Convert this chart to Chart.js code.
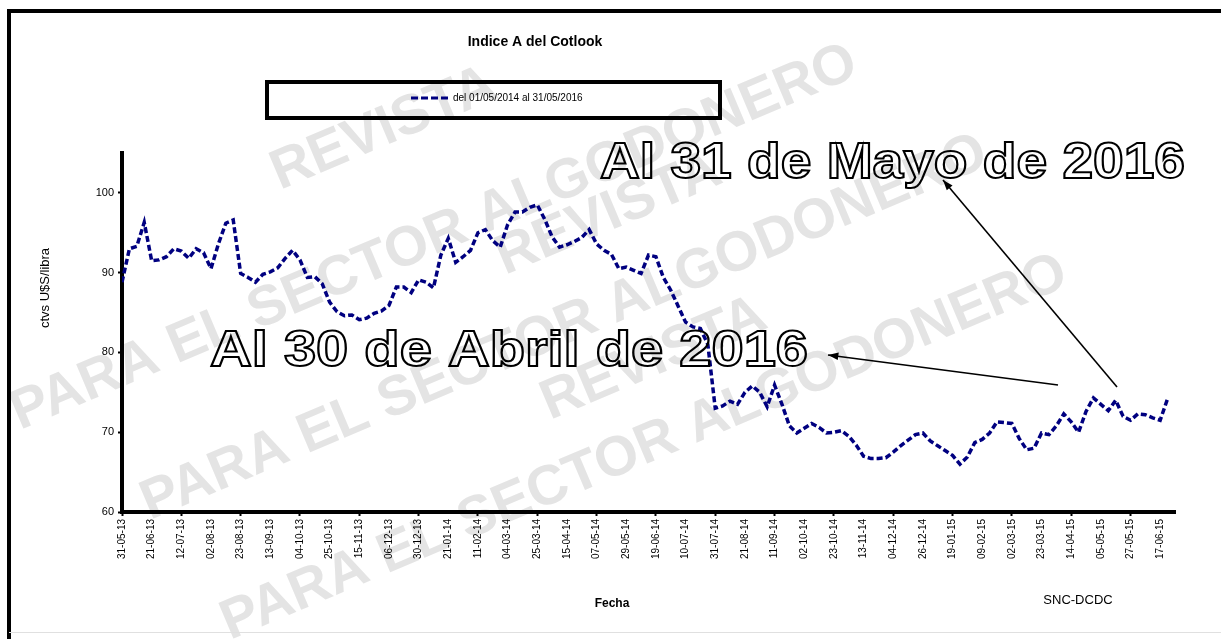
<!DOCTYPE html>
<html>
<head>
<meta charset="utf-8">
<script src="https://cdn.jsdelivr.net/npm/chart.js@4.4.1/dist/chart.umd.min.js"></script>
<style>
  html, body { margin: 0; padding: 0; background: #fff; }
  canvas { display: block; }
</style>
</head>
<body>
<canvas id="myChart" width="1221" height="639"></canvas>
<script>
const chartTitle = 'Indice A del Cotlook'
const legendLabel = 'del 01/05/2014 al 31/05/2016'
const yTitle = 'ctvs U$S/libra'
const xTitle = 'Fecha'
const sourceNote = 'SNC-DCDC'

// one label every 4 points
const xTickLabels = ['31-05-13','21-06-13','12-07-13','02-08-13','23-08-13','13-09-13','04-10-13','25-10-13','15-11-13','06-12-13',
  '30-12-13','21-01-14','11-02-14','04-03-14','25-03-14','15-04-14','07-05-14','29-05-14','19-06-14','10-07-14',
  '31-07-14','21-08-14','11-09-14','02-10-14','23-10-14','13-11-14','04-12-14','26-12-14','19-01-15','09-02-15',
  '02-03-15','23-03-15','14-04-15','05-05-15','27-05-15','17-06-15']
const pointsPerLabel = 4

const priceValues = [
  88.8, 93.0, 93.3, 96.3, 91.5, 91.6, 92.0, 93.0, 92.7, 91.8,
  93.0, 92.5, 90.5, 93.6, 96.2, 96.6, 89.9, 89.4, 88.8, 89.8,
  90.1, 90.6, 91.8, 92.8, 91.6, 89.4, 89.5, 88.6, 86.3, 85.1,
  84.6, 84.7, 84.1, 84.3, 84.9, 85.2, 85.9, 88.2, 88.2, 87.5,
  89.1, 88.8, 88.1, 92.2, 94.3, 91.3, 92.0, 92.8, 95.0, 95.4,
  94.0, 93.2, 96.0, 97.6, 97.6, 98.2, 98.5, 96.7, 94.5, 93.2,
  93.5, 93.9, 94.4, 95.4, 93.6, 92.8, 92.3, 90.5, 90.7, 90.3,
  89.9, 92.2, 92.0, 89.4, 87.8, 85.8, 83.8, 83.2, 83.0, 81.0,
  73.0, 73.3, 73.9, 73.5, 75.0, 75.8, 75.0, 73.2, 75.9, 73.5,
  70.8, 69.9, 70.5, 71.1, 70.6, 69.9, 70.0, 70.2, 69.5, 68.4,
  67.0, 66.7, 66.7, 66.8, 67.5, 68.3, 69.0, 69.7, 69.9, 68.9,
  68.3, 67.7, 67.1, 66.0, 66.9, 68.7, 69.1, 69.9, 71.3, 71.2,
  71.1, 69.2, 67.8, 68.0, 69.9, 69.7, 70.8, 72.3, 71.3, 70.0,
  72.6, 74.3, 73.5, 72.7, 74.0, 72.0, 71.5, 72.3, 72.2, 71.8,
  71.5, 74.2
]

const annotations = ['Al 31 de Mayo de 2016', 'Al 30 de Abril de 2016']
const watermarkTop = 'REVISTA'
const watermarkBottom = 'PARA EL SECTOR ALGODONERO'

const FONT = 'Arial, "Liberation Sans", sans-serif'
const LINE_COLOR = '#000080'

let points = priceValues.map((v, i) => ({ x: i, y: v }))

function arrow(ctx, x1, y1, x2, y2) {
    ctx.beginPath()
    ctx.moveTo(x1, y1)
    ctx.lineTo(x2, y2)
    ctx.stroke()
    let a = Math.atan2(y2 - y1, x2 - x1)
    ctx.beginPath()
    ctx.moveTo(x2, y2)
    ctx.lineTo(x2 - 11 * Math.cos(a - 0.35), y2 - 11 * Math.sin(a - 0.35))
    ctx.lineTo(x2 - 11 * Math.cos(a + 0.35), y2 - 11 * Math.sin(a + 0.35))
    ctx.closePath()
    ctx.fill()
}

function outlineText(ctx, text, x, baseline, width, size) {
    ctx.save()
    ctx.font = 'bold ' + size + 'px ' + FONT
    let w = ctx.measureText(text).width
    ctx.translate(x, baseline)
    ctx.scale(width / w, 1)
    ctx.textAlign = 'left'
    ctx.textBaseline = 'alphabetic'
    ctx.lineWidth = 2
    ctx.strokeStyle = '#000'
    ctx.strokeText(text, 0, 0)
    ctx.restore()
}

const decor = {
    id: 'decor',
    beforeDraw(chart) {
        const ctx = chart.ctx
        ctx.save()
        ctx.fillStyle = '#fff'
        ctx.fillRect(0, 0, chart.width, chart.height)
        // watermark stamps
        ctx.fillStyle = '#e4e4e4'
        ctx.font = 'bold 56px ' + FONT
        ctx.textBaseline = 'alphabetic'
        let stamps = [[280, 190, 20, 430], [505, 275, 150, 520], [550, 420, 230, 640]]
        stamps.forEach(s => {
            ctx.save()
            ctx.translate(s[0], s[1])
            ctx.rotate(-0.4)
            ctx.fillText(watermarkTop, 0, 0)
            ctx.restore()
            ctx.save()
            ctx.translate(s[2], s[3])
            ctx.rotate(-0.4)
            ctx.fillText(watermarkBottom, 0, 0)
            ctx.restore()
        })
        ctx.restore()
    },
    afterDraw(chart) {
        const ctx = chart.ctx
        ctx.save()
        // frame
        ctx.strokeStyle = '#000'
        ctx.lineWidth = 4
        ctx.beginPath()
        ctx.moveTo(9, 639)
        ctx.lineTo(9, 11)
        ctx.lineTo(1221, 11)
        ctx.stroke()
        ctx.strokeStyle = '#e0e0e0'
        ctx.lineWidth = 1
        ctx.beginPath()
        ctx.moveTo(9, 632.5)
        ctx.lineTo(1221, 632.5)
        ctx.stroke()

        // title
        ctx.fillStyle = '#000'
        ctx.textAlign = 'center'
        ctx.textBaseline = 'middle'
        ctx.font = 'bold 14px ' + FONT
        ctx.fillText(chartTitle, 535, 42)

        // legend box
        ctx.lineWidth = 4
        ctx.strokeStyle = '#000'
        ctx.strokeRect(267, 82, 453, 36)
        ctx.strokeStyle = LINE_COLOR
        ctx.lineWidth = 3
        ctx.setLineDash([7, 3])
        ctx.beginPath()
        ctx.moveTo(411, 98)
        ctx.lineTo(451, 98)
        ctx.stroke()
        ctx.setLineDash([])
        ctx.fillStyle = '#000'
        ctx.textAlign = 'left'
        ctx.font = '10px ' + FONT
        ctx.fillText(legendLabel, 453, 98)

        // axis titles
        ctx.font = 'bold 12px ' + FONT
        ctx.textAlign = 'center'
        ctx.fillText(xTitle, 612, 604)
        ctx.save()
        ctx.translate(45, 288)
        ctx.rotate(-Math.PI / 2)
        ctx.font = '13px ' + FONT
        ctx.fillText(yTitle, 0, 0)
        ctx.restore()
        ctx.font = '13px ' + FONT
        ctx.fillText(sourceNote, 1078, 600)

        // annotations
        outlineText(ctx, annotations[0], 600, 178, 585, 50)
        outlineText(ctx, annotations[1], 210, 366, 598, 50)
        ctx.strokeStyle = '#000'
        ctx.fillStyle = '#000'
        ctx.lineWidth = 1.6
        arrow(ctx, 1058, 385, 828, 355)
        arrow(ctx, 1117, 387, 943, 180)
        ctx.restore()
    }
}

let chart = new Chart('myChart', {
    type: 'line',
    data: {
        datasets: [{
            label: legendLabel,
            data: points,
            borderColor: LINE_COLOR,
            borderWidth: 3.5,
            borderDash: [6, 3],
            pointRadius: 0,
            tension: 0,
            fill: false,
        }]
    },
    options: {
        responsive: false,
        animation: false,
        layout: {
            padding: { top: 153, right: 46, left: 0, bottom: 0 }
        },
        plugins: {
            legend: { display: false },
            title: { display: false },
            tooltip: { enabled: false },
        },
        scales: {
            x: {
                type: 'linear',
                min: 0,
                max: 142,
                afterFit: s => { s.height = 127 },
                ticks: {
                    stepSize: pointsPerLabel,
                    includeBounds: false,
                    autoSkip: false,
                    minRotation: 90,
                    maxRotation: 90,
                    padding: 3,
                    color: '#000',
                    font: { family: FONT, size: 10 },
                    callback: v => xTickLabels[v / pointsPerLabel] ?? '',
                },
                grid: {
                    drawOnChartArea: false,
                    tickLength: 4,
                    tickWidth: 2,
                    tickColor: ctx => ctx.index % 2 === 0 ? '#000' : 'rgba(0,0,0,0)',
                },
                border: { color: '#000', width: 4 },
            },
            y: {
                min: 60,
                max: 105,
                afterFit: s => { s.width = 122 },
                ticks: {
                    stepSize: 10,
                    includeBounds: false,
                    padding: 4,
                    color: '#000',
                    font: { family: FONT, size: 11 },
                },
                grid: {
                    drawOnChartArea: false,
                    tickLength: 4,
                    tickWidth: 2,
                    tickColor: '#000',
                },
                border: { color: '#000', width: 4 },
            }
        }
    },
    plugins: [decor]
});
</script>
</body>
</html>
